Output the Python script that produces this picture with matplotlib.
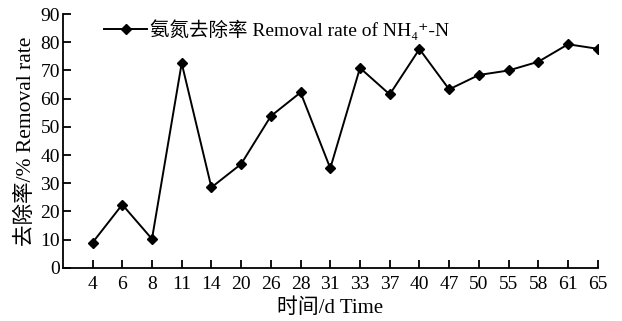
import numpy as np
import matplotlib
matplotlib.use('Agg')
import matplotlib.pyplot as plt

# data
days = ['4', '6', '8', '11', '14', '20', '26', '28', '31', '33',
        '37', '40', '47', '50', '55', '58', '61', '65']
removal = [8.9, 22.4, 10.2, 72.6, 28.5, 36.8, 53.8, 62.2, 35.3, 70.9,
           61.5, 77.6, 63.3, 68.4, 70.0, 73.1, 79.3, 77.7]
yticks = list(range(0, 91, 10))

plt.rcParams['font.family'] = ['Liberation Serif', 'Noto Sans CJK SC', 'DejaVu Serif']
plt.rcParams['font.size'] = 14

fig = plt.figure(figsize=(6.22, 3.21), dpi=100)
ax = fig.add_axes([0.101, 0.166, 0.860, 0.790])

x = np.arange(len(days))
ax.plot(x, removal, color='black', lw=1.4, marker='D', ms=5.5,
        label='氨氮去除率 Removal rate of NH₄⁺-N')

ax.set_xlim(-1, len(days) - 1)
ax.set_ylim(0, 90)
ax.set_xticks(x)
ax.set_xticklabels(days)
ax.set_yticks(yticks)

ax.spines['top'].set_visible(False)
ax.spines['right'].set_visible(False)
for s in ['left', 'bottom']:
    ax.spines[s].set_linewidth(1.3)
ax.tick_params(axis='both', direction='in', length=6, width=1.3, labelsize=14)
ax.tick_params(axis='y', pad=2)
ax.tick_params(axis='x', pad=6)

ax.set_xlabel('时间/d Time', fontsize=15, labelpad=4)
ax.set_ylabel('去除率/% Removal rate', fontsize=15.5, labelpad=3)

ax.legend(loc='upper left', bbox_to_anchor=(0.045, 1.05), frameon=False,
          fontsize=14, handlelength=2.2, handletextpad=0.15, markerscale=0.85)

fig.savefig('out.png', dpi=100)
